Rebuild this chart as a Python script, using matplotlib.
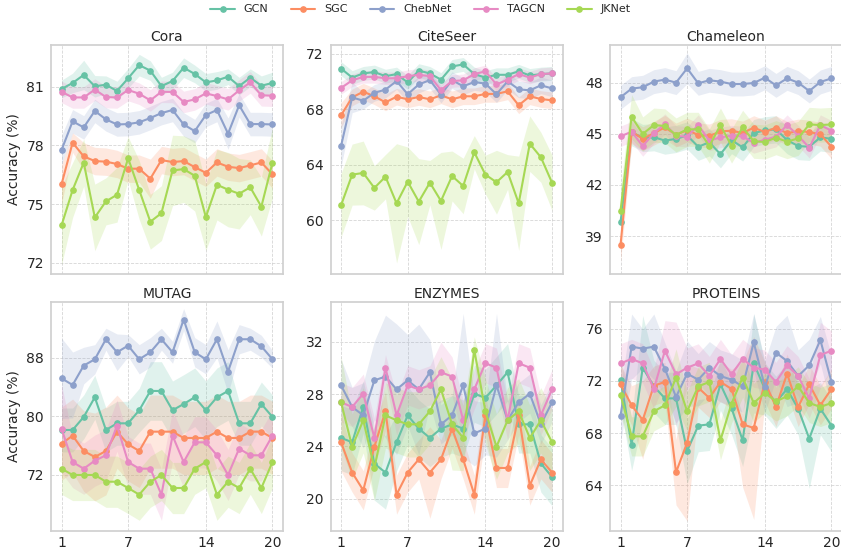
import numpy as np
import matplotlib
matplotlib.use("Agg")
import matplotlib.pyplot as plt
import seaborn as sns

epochs = list(range(1, 21))
models = ["GCN", "SGC", "ChebNet", "TAGCN", "JKNet"]
colors = ["#66c2a5", "#fc8d62", "#8da0cb", "#e78ac3", "#a6d854"]
datasets = ["Cora", "CiteSeer", "Chameleon", "MUTAG", "ENZYMES", "PROTEINS"]

# ---- Cora ----
cora_gcn = [80.88, 81.19, 81.6, 81.02, 81.1, 80.78, 81.43, 82.1, 81.82, 81.03,
            81.29, 81.97, 81.65, 81.22, 81.32, 81.51, 81.03, 81.46, 81.05, 81.19]
cora_sgc = [76.01, 78.14, 77.44, 77.2, 77.17, 77.05, 76.81, 76.81, 76.3, 77.25,
            77.15, 77.2, 76.89, 76.6, 77.13, 76.91, 76.84, 76.98, 77.13, 76.52]
cora_cheb = [77.76, 79.23, 78.92, 79.76, 79.33, 79.07, 79.09, 79.18, 79.4, 79.65,
             79.81, 79.07, 78.73, 79.55, 79.81, 78.6, 80.05, 79.09, 79.09, 79.07]
cora_tag = [80.74, 80.45, 80.45, 80.85, 80.47, 80.45, 80.83, 80.64, 80.3, 80.74,
            80.73, 80.22, 80.35, 80.66, 80.52, 80.35, 80.81, 81.22, 80.56, 80.54]
cora_jk = [73.91, 75.72, 77.12, 74.32, 75.14, 75.48, 77.34, 75.72, 74.1, 74.54,
           76.72, 76.79, 76.45, 74.34, 75.99, 75.74, 75.53, 75.86, 74.87, 77.12]
cora_gcn_sd = [0.45, 0.5, 0.75, 0.55, 0.45, 0.5, 0.5, 0.55, 0.5, 0.45,
               0.45, 0.5, 0.45, 0.45, 0.45, 0.4, 0.45, 0.45, 0.5, 0.55]
cora_sgc_sd = [1.0, 0.5, 0.7, 0.7, 0.7, 0.7, 0.7, 0.7, 1.0, 0.7,
               0.7, 0.7, 0.7, 0.7, 0.7, 0.7, 0.7, 0.7, 0.7, 0.7]
cora_cheb_sd = [0.75, 0.6, 0.6, 0.6, 0.6, 0.6, 0.6, 0.6, 0.6, 0.6,
                0.6, 0.6, 0.6, 0.6, 0.6, 0.8, 0.6, 0.6, 0.6, 0.6]
cora_tag_sd = [0.55] * 20
cora_jk_sd = [2.0, 1.4, 1.2, 1.7, 1.2, 1.4, 1.1, 1.5, 1.4, 1.4,
              1.8, 1.7, 1.8, 1.7, 1.8, 1.9, 1.8, 1.4, 1.5, 1.8]

# ---- CiteSeer ----
cite_gcn = [70.95, 70.3, 70.6, 70.7, 70.4, 70.55, 69.95, 70.8, 70.6, 70.15,
            71.1, 71.25, 70.55, 70.3, 70.5, 70.5, 70.75, 70.45, 70.55, 70.6]
cite_sgc = [67.58, 68.87, 69.28, 68.95, 68.51, 68.92, 68.73, 68.9, 68.73, 69.02,
            68.73, 68.95, 68.95, 69.12, 69.12, 69.31, 68.3, 68.95, 68.75, 68.66]
cite_cheb = [65.37, 68.87, 68.63, 69.2, 69.43, 70.05, 69.1, 69.8, 70.12, 69.07,
             70.12, 69.67, 69.98, 69.86, 69.1, 70.03, 69.45, 69.38, 69.74, 69.52]
cite_tag = [69.55, 70.1, 70.35, 70.35, 70.25, 70.25, 70.4, 70.5, 70.4, 69.4,
            70.05, 70.1, 70.55, 70.75, 69.8, 70.15, 70.55, 70.3, 70.55, 70.6]
cite_jk = [61.09, 63.3, 63.42, 62.34, 63.15, 61.23, 62.79, 61.35, 62.72, 61.4,
           63.2, 62.48, 64.91, 63.3, 62.75, 63.49, 61.23, 65.53, 64.55, 62.72]
cite_gcn_sd = [0.5] * 20
cite_sgc_sd = [0.9] + [0.6] * 19
cite_cheb_sd = [1.5, 1.1] + [0.6] * 18
cite_tag_sd = [0.45] * 20
cite_jk_sd = [2.3, 2.2, 2.3, 1.6, 1.6, 4.3, 2.5, 3.1, 1.6, 3.5,
              1.8, 2.0, 1.2, 1.4, 2.3, 1.25, 3.4, 2.0, 1.8, 2.0]

# ---- Chameleon ----
cham_gcn = [39.82, 45.1, 44.75, 44.8, 44.6, 44.7, 44.9, 44.24, 44.5, 43.8,
            44.63, 44.2, 45.04, 45.2, 45.26, 44.63, 44.28, 44.24, 44.79, 44.7]
cham_sgc = [38.47, 45.12, 44.71, 45.03, 45.38, 44.93, 45.22, 44.93, 44.87, 45.14,
            45.18, 45.04, 45.36, 45.1, 45.36, 45.03, 45.16, 45.1, 44.97, 44.24]
cham_cheb = [47.14, 47.65, 47.73, 48.06, 48.18, 48.0, 48.84, 47.96, 48.14, 48.06,
             47.92, 47.92, 47.98, 48.29, 47.84, 48.25, 48.0, 47.51, 48.04, 48.25]
cham_tag = [44.85, 45.12, 44.28, 45.03, 45.57, 44.87, 44.83, 45.51, 44.6, 44.79,
            44.89, 44.85, 44.46, 44.65, 44.83, 45.51, 44.89, 44.18, 45.51, 45.18]
cham_jk = [40.49, 46.0, 44.99, 45.51, 45.46, 44.93, 45.26, 45.26, 44.28, 45.51,
           44.28, 45.38, 44.56, 44.52, 44.77, 44.54, 44.73, 45.55, 45.51, 45.55]
cham_gcn_sd = [0.8] * 20
cham_sgc_sd = [1.0] + [0.7] * 19
cham_cheb_sd = [0.7] * 6 + [0.9] + [0.7] * 13
cham_tag_sd = [0.6] * 20
cham_jk_sd = [1.3, 1.3] + [1.0] * 18

# ---- MUTAG ----
mutag_gcn = [78.11, 78.11, 79.89, 82.58, 78.11, 79.02, 79.02, 80.8, 83.44, 83.44,
             80.8, 81.66, 82.58, 80.8, 82.58, 83.44, 79.02, 79.02, 81.66, 79.89]
mutag_sgc = [76.24, 77.33, 75.24, 74.42, 75.24, 77.88, 76.15, 75.24, 77.88, 77.88,
             77.88, 77.02, 77.02, 77.02, 77.88, 77.02, 77.02, 77.88, 77.88, 77.02]
mutag_cheb = [85.17, 84.26, 86.91, 87.77, 90.51, 88.73, 89.64, 87.77, 88.73, 90.51,
              88.73, 93.2, 88.73, 87.77, 90.51, 86.09, 90.51, 90.51, 89.55, 87.77]
mutag_tag = [78.29, 73.73, 72.82, 73.92, 74.65, 78.7, 73.73, 72.82, 72.82, 69.27,
             77.33, 73.73, 76.42, 76.42, 74.65, 71.96, 75.56, 74.65, 74.65, 77.33]
mutag_jk = [72.82, 71.96, 71.96, 71.96, 71.04, 71.04, 70.18, 69.27, 71.04, 71.96,
            70.18, 70.18, 72.82, 73.73, 69.27, 71.04, 70.18, 72.82, 70.18, 73.73]
mutag_gcn_sd = [3.0] * 8 + [4.0] * 8 + [3.0] * 4
mutag_sgc_sd = [5.0, 5.0, 5.5, 6.0, 6.0, 5.0] + [5.0] * 14
mutag_cheb_sd = [5.5, 4.5, 2.5, 2.0, 1.5, 2.5, 1.5, 2.0, 2.0, 1.5,
                 1.5, 1.5, 2.0, 2.0, 2.5, 3.0, 2.0, 1.5, 1.5, 1.2]
mutag_tag_sd = [6.0] + [3.5] * 19
mutag_jk_sd = [3.5] * 20

# ---- ENZYMES ----
enz_gcn = [24.65, 24.32, 27.02, 22.68, 22.0, 24.32, 26.38, 25.36, 24.65, 25.36,
           25.69, 25.36, 28.04, 27.71, 28.68, 29.68, 25.69, 25.69, 22.7, 21.66]
enz_sgc = [24.32, 22.0, 20.64, 23.98, 26.69, 20.31, 22.0, 23.01, 22.0, 23.01,
           25.36, 23.01, 20.31, 26.38, 22.35, 22.35, 26.38, 21.0, 23.01, 22.0]
enz_cheb = [28.68, 27.02, 26.38, 29.06, 29.35, 28.37, 29.06, 28.37, 29.68, 25.69,
            26.38, 28.68, 25.0, 25.36, 28.68, 26.0, 27.38, 28.04, 25.69, 27.38]
enz_tag = [27.38, 27.02, 28.04, 24.65, 30.03, 26.38, 28.68, 28.37, 28.68, 29.68,
           29.35, 26.0, 28.37, 30.37, 30.03, 26.0, 30.37, 30.03, 26.38, 28.37]
enz_jk = [27.38, 23.98, 26.0, 22.35, 26.38, 26.0, 25.69, 25.69, 26.69, 28.37,
          25.69, 24.65, 31.39, 26.69, 23.98, 26.0, 26.69, 24.65, 26.0, 24.32]
enz_gcn_sd = [2.5, 2.5, 2.0, 2.8, 2.8] + [2.2] * 15
enz_sgc_sd = [2.2] + [1.5] * 7 + [3.5] + [1.5] * 11
enz_cheb_sd = [2.0, 1.5, 2.5, 3.0, 4.7, 5.0, 3.5, 5.0, 2.5, 1.5,
               1.5, 5.5, 2.5, 2.0, 5.5, 1.5, 1.5, 1.5, 1.5, 1.5]
enz_tag_sd = [1.5] * 4 + [1.0] + [1.5] * 4 + [2.3] + [1.5] * 10
enz_jk_sd = [3.5] + [2.5] * 9 + [3.5, 2.5, 1.0] + [2.5] * 7

# ---- PROTEINS ----
prot_gcn = [72.07, 67.12, 73.01, 71.58, 70.66, 70.66, 66.63, 68.57, 68.67, 71.74,
            69.9, 67.45, 73.34, 71.38, 70.36, 71.38, 69.87, 67.58, 69.87, 68.57]
prot_sgc = [71.74, 70.13, 69.0, 71.63, 71.92, 65.0, 67.27, 71.48, 70.69, 71.92,
            71.38, 68.67, 68.39, 71.92, 70.0, 72.55, 70.0, 71.74, 70.13, 71.38]
prot_cheb = [69.34, 74.62, 74.47, 74.62, 72.91, 70.77, 72.55, 72.09, 73.01, 72.37,
             72.09, 71.58, 74.95, 71.53, 74.16, 73.52, 72.37, 73.19, 75.13, 71.92]
prot_tag = [73.34, 73.68, 73.34, 71.38, 74.31, 72.5, 73.01, 73.34, 72.37, 73.68,
            72.5, 73.68, 73.01, 72.86, 71.92, 73.19, 72.37, 70.66, 73.98, 74.31]
prot_jk = [70.94, 67.75, 67.75, 69.67, 70.13, 72.25, 69.67, 71.58, 71.92, 67.45,
           70.26, 72.25, 70.31, 71.07, 70.43, 70.82, 71.58, 70.31, 70.0, 70.31]
prot_gcn_sd = [2.0, 2.0, 4.0, 2.0, 2.0, 2.0, 2.5, 2.0, 2.0, 2.0,
               2.0, 2.0, 3.8, 2.0, 2.0, 2.0, 2.0, 3.8, 2.0, 2.0]
prot_sgc_sd = [1.5, 1.5, 3.0, 1.5, 1.5, 2.5, 6.0, 1.5, 1.5, 1.5,
               1.5, 4.8, 7.0, 1.5, 1.5, 1.5, 1.5, 1.5, 1.5, 1.5]
prot_cheb_sd = [2.0, 2.5, 1.5, 2.5, 2.0, 2.0, 2.5, 2.0, 2.0, 2.0,
                2.0, 2.0, 2.2, 2.0, 2.0, 3.5, 2.0, 2.0, 1.8, 2.0]
prot_tag_sd = [1.5] * 4 + [2.3, 4.0] + [1.5] * 12 + [2.5, 1.5]
prot_jk_sd = [1.5] * 5 + [2.2] + [1.5] * 14

means = {
    "Cora": [cora_gcn, cora_sgc, cora_cheb, cora_tag, cora_jk],
    "CiteSeer": [cite_gcn, cite_sgc, cite_cheb, cite_tag, cite_jk],
    "Chameleon": [cham_gcn, cham_sgc, cham_cheb, cham_tag, cham_jk],
    "MUTAG": [mutag_gcn, mutag_sgc, mutag_cheb, mutag_tag, mutag_jk],
    "ENZYMES": [enz_gcn, enz_sgc, enz_cheb, enz_tag, enz_jk],
    "PROTEINS": [prot_gcn, prot_sgc, prot_cheb, prot_tag, prot_jk],
}
stds = {
    "Cora": [cora_gcn_sd, cora_sgc_sd, cora_cheb_sd, cora_tag_sd, cora_jk_sd],
    "CiteSeer": [cite_gcn_sd, cite_sgc_sd, cite_cheb_sd, cite_tag_sd, cite_jk_sd],
    "Chameleon": [cham_gcn_sd, cham_sgc_sd, cham_cheb_sd, cham_tag_sd, cham_jk_sd],
    "MUTAG": [mutag_gcn_sd, mutag_sgc_sd, mutag_cheb_sd, mutag_tag_sd, mutag_jk_sd],
    "ENZYMES": [enz_gcn_sd, enz_sgc_sd, enz_cheb_sd, enz_tag_sd, enz_jk_sd],
    "PROTEINS": [prot_gcn_sd, prot_sgc_sd, prot_cheb_sd, prot_tag_sd, prot_jk_sd],
}
ylims = {
    "Cora": (71.43, 83.13), "CiteSeer": (56.13, 72.65), "Chameleon": (36.77, 50.21),
    "MUTAG": (64.3, 95.6), "ENZYMES": (17.52, 35.06), "PROTEINS": (60.5, 78.04),
}
yticks = {
    "Cora": [72, 75, 78, 81], "CiteSeer": [60, 64, 68, 72], "Chameleon": [39, 42, 45, 48],
    "MUTAG": [72, 80, 88], "ENZYMES": [20, 24, 28, 32], "PROTEINS": [64, 68, 72, 76],
}

sns.set_theme(style="whitegrid")
plt.rcParams['font.family'] = ['DejaVu Sans']

fig = plt.figure(figsize=(8.41, 5.52), dpi=100)
lefts = [0.0606, 0.393, 0.7253]
bottoms = [0.5036, 0.038]
w, h = 0.2759, 0.4149

x = np.array(epochs)
handles = []
for i, name in enumerate(datasets):
    ax = fig.add_axes([lefts[i % 3], bottoms[i // 3], w, h])
    for j, model in enumerate(models):
        m = np.array(means[name][j])
        s = np.array(stds[name][j])
        ln, = ax.plot(x, m, color=colors[j], marker="o", markersize=3.8, lw=1.5, label=model)
        ax.fill_between(x, m - s, m + s, color=colors[j], alpha=0.2, lw=0)
        if i == 0:
            handles.append(ln)
    ax.set_title(name, fontsize=10, pad=3)
    ax.set_xticks([1, 7, 14, 20])
    ax.set_yticks(yticks[name])
    ax.set_ylim(*ylims[name])
    ax.grid(True, linestyle="--", lw=0.6, alpha=0.8)
    ax.tick_params(axis="x", labelsize=10, length=0, pad=3.5)
    ax.tick_params(axis="y", labelsize=10, length=0, pad=5)
    if i < 3:
        ax.tick_params(labelbottom=False)
    if i % 3 == 0:
        ax.set_ylabel("Accuracy (%)", fontsize=10, labelpad=4)
    for sp in ax.spines.values():
        sp.set_color("#d0d0d0")

fig.legend(handles, models, loc="upper center", bbox_to_anchor=(0.5, 1.01), ncol=5,
           frameon=False, fontsize=8, handlelength=2.2)

fig.savefig("out.png", dpi=100)
